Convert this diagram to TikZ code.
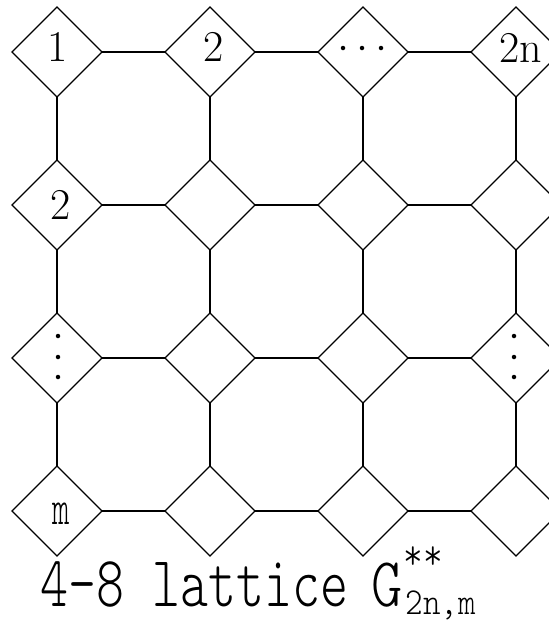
\documentclass[tikz,border=0pt]{standalone}
\usetikzlibrary{shapes.geometric}
\begin{document}
\begin{tikzpicture}[x=1pt,y=-1pt,line width=1.3pt,
  dia/.style={draw,diamond,minimum width=90pt,minimum height=90pt,inner sep=0pt,outer sep=0pt},
  lab/.style={inner sep=0pt,font=\fontsize{44}{44}\selectfont},
  dotm/.style={circle,fill,inner sep=0pt,minimum size=4.5pt},
  captxt/.style={inner sep=0pt,anchor=base west}]
\useasboundingbox (0,0) rectangle (549,622);
\begin{scope}
\clip (0,0) rectangle (549,622);
\foreach \r/\y in {1/52,2/205,3/358,4/511}{
  \foreach \c/\x in {1/57,2/210,3/363,4/516}{
    \node[dia] (d\r\c) at (\x,\y) {};
  }
}
\foreach \r in {1,2,3,4}{
  \draw (d\r1.east) -- (d\r2.west);
  \draw (d\r2.east) -- (d\r3.west);
  \draw (d\r3.east) -- (d\r4.west);
}
\foreach \c in {1,2,3,4}{
  \draw (d1\c.south) -- (d2\c.north);
  \draw (d2\c.south) -- (d3\c.north);
  \draw (d3\c.south) -- (d4\c.north);
}
\node[lab] (l1) at (57.5,47) {1};
\node[lab] (l2) at (214,47) {2};
\node[lab] (l2n) at (521,48) {2n};
\node[lab] (l2r) at (61,205) {2};
\node[inner sep=0pt,font=\ttfamily\fontseries{l}\fontsize{50}{50}\selectfont] (lm) at (61,514) {\scalebox{0.66}[1]{m}};
\node[dotm] (h1) at (343,48) {};
\node[dotm] (h2) at (362,48) {};
\node[dotm] (h3) at (381,48) {};
\node[dotm] (v1) at (58,336) {};
\node[dotm] (v2) at (58,357) {};
\node[dotm] (v3) at (58,377) {};
\node[dotm] (w1) at (514,336) {};
\node[dotm] (w2) at (514,357) {};
\node[dotm] (w3) at (514,377) {};
\end{scope}
\node[captxt,font=\ttfamily\fontseries{l}\fontsize{72}{72}\selectfont] (c1) at (40,606) {\scalebox{0.74}[1]{4-8 lattice}};
\node[captxt,font=\ttfamily\fontseries{l}\fontsize{70}{70}\selectfont] (cg) at (371,606) {\scalebox{0.85}[1]{G}};
\node[captxt,font=\ttfamily\fontseries{l}\fontsize{38}{38}\selectfont] (cs) at (405,614) {\scalebox{0.88}[1]{2n,m}};
\node[captxt,font=\ttfamily\fontseries{l}\fontsize{44}{44}\selectfont] (cp) at (403,569) {\scalebox{0.85}[1]{**}};
\end{tikzpicture}
\end{document}
